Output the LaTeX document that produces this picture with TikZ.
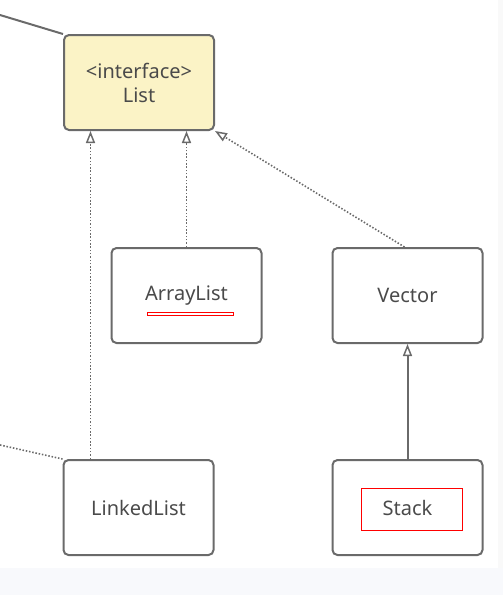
\documentclass[tikz,border=0pt]{standalone}
\usepackage{fontspec}
\setmainfont{Noto Sans}
\usetikzlibrary{arrows.meta,calc}
\definecolor{boxline}{HTML}{6A6A6A}
\definecolor{boxtext}{HTML}{4A4A4A}
\definecolor{ifill}{HTML}{FBF3C6}
\definecolor{pagebg}{HTML}{F8F9FC}
\tikzset{cls/.style={rectangle,rounded corners=5pt,draw=boxline,line width=2pt,
    minimum width=150pt,minimum height=95pt,inner sep=0pt,text=boxtext,
    font=\fontsize{20}{24}\selectfont,align=center},
  impl/.style={draw=boxline,line width=1.6pt,dash pattern=on 1.5pt off 1.8pt,
    -{Triangle[open,length=12pt,width=9pt,line width=1.5pt]}},
  ext/.style={draw=boxline,line width=2pt,
    -{Triangle[open,length=12pt,width=9pt,line width=1.5pt]}}}
\begin{document}
\begin{tikzpicture}[x=1pt,y=-1pt]
\useasboundingbox (0,0) rectangle (503,595);
\fill[pagebg] (0,568) rectangle (503,595);
\fill[pagebg!80!gray!20] (498,0) rectangle (503,568);
\node (list) at (139,82.5) [cls,fill=ifill] {<interface>\\List};
\node (al) at (186.5,295.5) [cls] {ArrayList};
\node (vec) at (407.5,295.5) [cls] {Vector};
\node (ll) at (138.5,507.5) [cls] {LinkedList};
\node (st) at (407.5,507.5) [cls] {Stack};
\coordinate (inA) at (0,15);
\coordinate (inB) at (0,445);
\coordinate (lt) at ([xshift=28pt]ll.north west);
\draw[boxline,line width=2pt] (inA)--(list.north west);
\draw[boxline,line width=1.6pt,dash pattern=on 1.5pt off 1.8pt] (inB)--(ll.north west);
\draw[impl] (lt)--(lt |- list.south);
\draw[impl] (al.north)--(al.north |- list.south);
\draw[impl] ([xshift=-3pt]vec.north)--(list.south east);
\draw[ext] (st.north)--(vec.south);
\draw[red,line width=0.9pt] (147,312) rectangle (233,315)
      (361,488) rectangle (462,530);
\end{tikzpicture}
\end{document}
